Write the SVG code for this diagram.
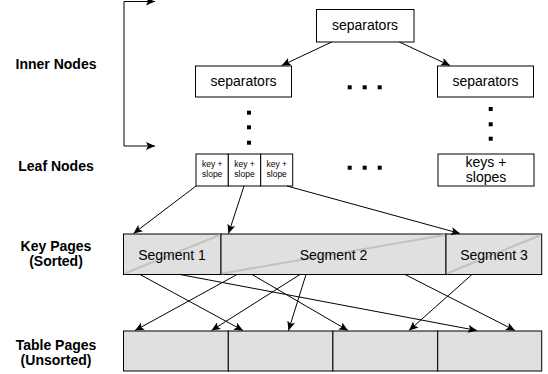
<svg xmlns="http://www.w3.org/2000/svg" width="548" height="374" viewBox="0 0 548 374">
<defs>
<style>
.lbl{font-family:"Liberation Sans",Arial,sans-serif;font-size:14px;font-weight:bold;fill:#000;text-anchor:middle}
.t{font-family:"Liberation Sans",Arial,sans-serif;font-size:14px;fill:#000;text-anchor:middle}
.s{font-family:"Liberation Sans",Arial,sans-serif;font-size:8.5px;fill:#000;text-anchor:middle}
.box{fill:#fff;stroke:#000;stroke-width:1}
.page{fill:#e0e0e0;stroke:#000;stroke-width:1}
.diag{stroke:#c2c2c2;stroke-width:2;fill:none}
.dot{fill:#000}
.c{stroke:#000;stroke-width:1;fill:none;marker-end:url(#ah)}
</style>
<marker id="ah" markerUnits="userSpaceOnUse" markerWidth="10" markerHeight="8" refX="9" refY="4" orient="auto">
<path d="M0,0 L9,4 L0,8 L2,4 z" fill="#000"/>
</marker>
</defs>
<rect width="548" height="374" fill="#fff"/>

<g id="labels">
<text class="lbl" x="56" y="69">Inner Nodes</text>
<text class="lbl" x="56" y="171">Leaf Nodes</text>
<text class="lbl" x="56" y="251">Key Pages</text>
<text class="lbl" x="56" y="266">(Sorted)</text>
<text class="lbl" x="56" y="350">Table Pages</text>
<text class="lbl" x="56" y="365">(Unsorted)</text>
</g>

<g id="root">
<rect class="box" x="316.5" y="9.5" width="97.5" height="32.5"/>
<text class="t" x="365" y="30">separators</text>
</g>
<g id="inner-left">
<rect class="box" x="195.5" y="66" width="96" height="31"/>
<text class="t" x="243.5" y="86">separators</text>
</g>
<g id="inner-right">
<rect class="box" x="437.5" y="66" width="96" height="31"/>
<text class="t" x="485.5" y="86">separators</text>
</g>

<g id="leaf-left">
<rect class="box" x="196" y="154" width="32.3" height="32"/>
<rect class="box" x="228.3" y="154" width="32.4" height="32"/>
<rect class="box" x="260.7" y="154" width="32" height="32"/>
<text class="s" x="212.2" y="167">key +</text>
<text class="s" x="212.2" y="177">slope</text>
<text class="s" x="244.5" y="167">key +</text>
<text class="s" x="244.5" y="177">slope</text>
<text class="s" x="276.7" y="167">key +</text>
<text class="s" x="276.7" y="177">slope</text>
</g>
<g id="leaf-right">
<rect class="box" x="438" y="154" width="96" height="32"/>
<text class="t" x="486" y="167">keys +</text>
<text class="t" x="486" y="182">slopes</text>
</g>

<g id="ellipses">
<rect class="dot" x="347.7" y="85.3" width="4" height="4"/>
<rect class="dot" x="362.7" y="85.3" width="4" height="4"/>
<rect class="dot" x="377.7" y="85.3" width="4" height="4"/>
<rect class="dot" x="347.7" y="165.7" width="4" height="4"/>
<rect class="dot" x="362.7" y="165.7" width="4" height="4"/>
<rect class="dot" x="377.7" y="165.7" width="4" height="4"/>
<rect class="dot" x="247" y="110.7" width="4" height="4"/>
<rect class="dot" x="247" y="125.3" width="4" height="4"/>
<rect class="dot" x="247" y="140.7" width="4" height="4"/>
<rect class="dot" x="488.7" y="107" width="4" height="4"/>
<rect class="dot" x="488.7" y="122.3" width="4" height="4"/>
<rect class="dot" x="488.7" y="136.7" width="4" height="4"/>
</g>

<g id="key-pages">
<rect class="page" x="123.5" y="234" width="97.5" height="40.5"/>
<rect class="page" x="221" y="234" width="225" height="40.5"/>
<rect class="page" x="446" y="234" width="95.7" height="40.5"/>
<line class="diag" x1="124.5" y1="273.5" x2="220" y2="235"/>
<line class="diag" x1="222" y1="273.5" x2="445" y2="235"/>
<line class="diag" x1="447" y1="273.5" x2="540.7" y2="235"/>
<text class="t" x="172" y="260">Segment 1</text>
<text class="t" x="333.5" y="260">Segment 2</text>
<text class="t" x="494" y="260">Segment 3</text>
</g>

<g id="table-pages">
<rect class="page" x="123.5" y="331" width="104.8" height="40"/>
<rect class="page" x="228.3" y="331" width="104.6" height="40"/>
<rect class="page" x="332.9" y="331" width="104.8" height="40"/>
<rect class="page" x="437.7" y="331" width="104" height="40"/>
</g>

<g id="connectors">
<path class="c" d="M124,1.5 L124,146 L155,146"/>
<line class="c" x1="124" y1="1.5" x2="155" y2="1.5"/>
<line class="c" x1="331.7" y1="42" x2="281.7" y2="65.5"/>
<line class="c" x1="399.3" y1="42" x2="450" y2="65.5"/>
<line class="c" x1="196" y1="186" x2="133.5" y2="233.5"/>
<line class="c" x1="244" y1="186" x2="228.5" y2="233.5"/>
<line class="c" x1="287" y1="186" x2="460" y2="233.5"/>
<line class="c" x1="140" y1="274.5" x2="243" y2="330.5"/>
<line class="c" x1="180" y1="274.5" x2="477" y2="330.5"/>
<line class="c" x1="237" y1="274.5" x2="135" y2="330.5"/>
<line class="c" x1="252" y1="274.5" x2="348" y2="330.5"/>
<line class="c" x1="300" y1="274.5" x2="211.5" y2="330.5"/>
<line class="c" x1="306" y1="274.5" x2="288.5" y2="330.5"/>
<line class="c" x1="405" y1="274.5" x2="515" y2="330.5"/>
<line class="c" x1="472" y1="274.5" x2="409" y2="330.5"/>
</g>
</svg>
